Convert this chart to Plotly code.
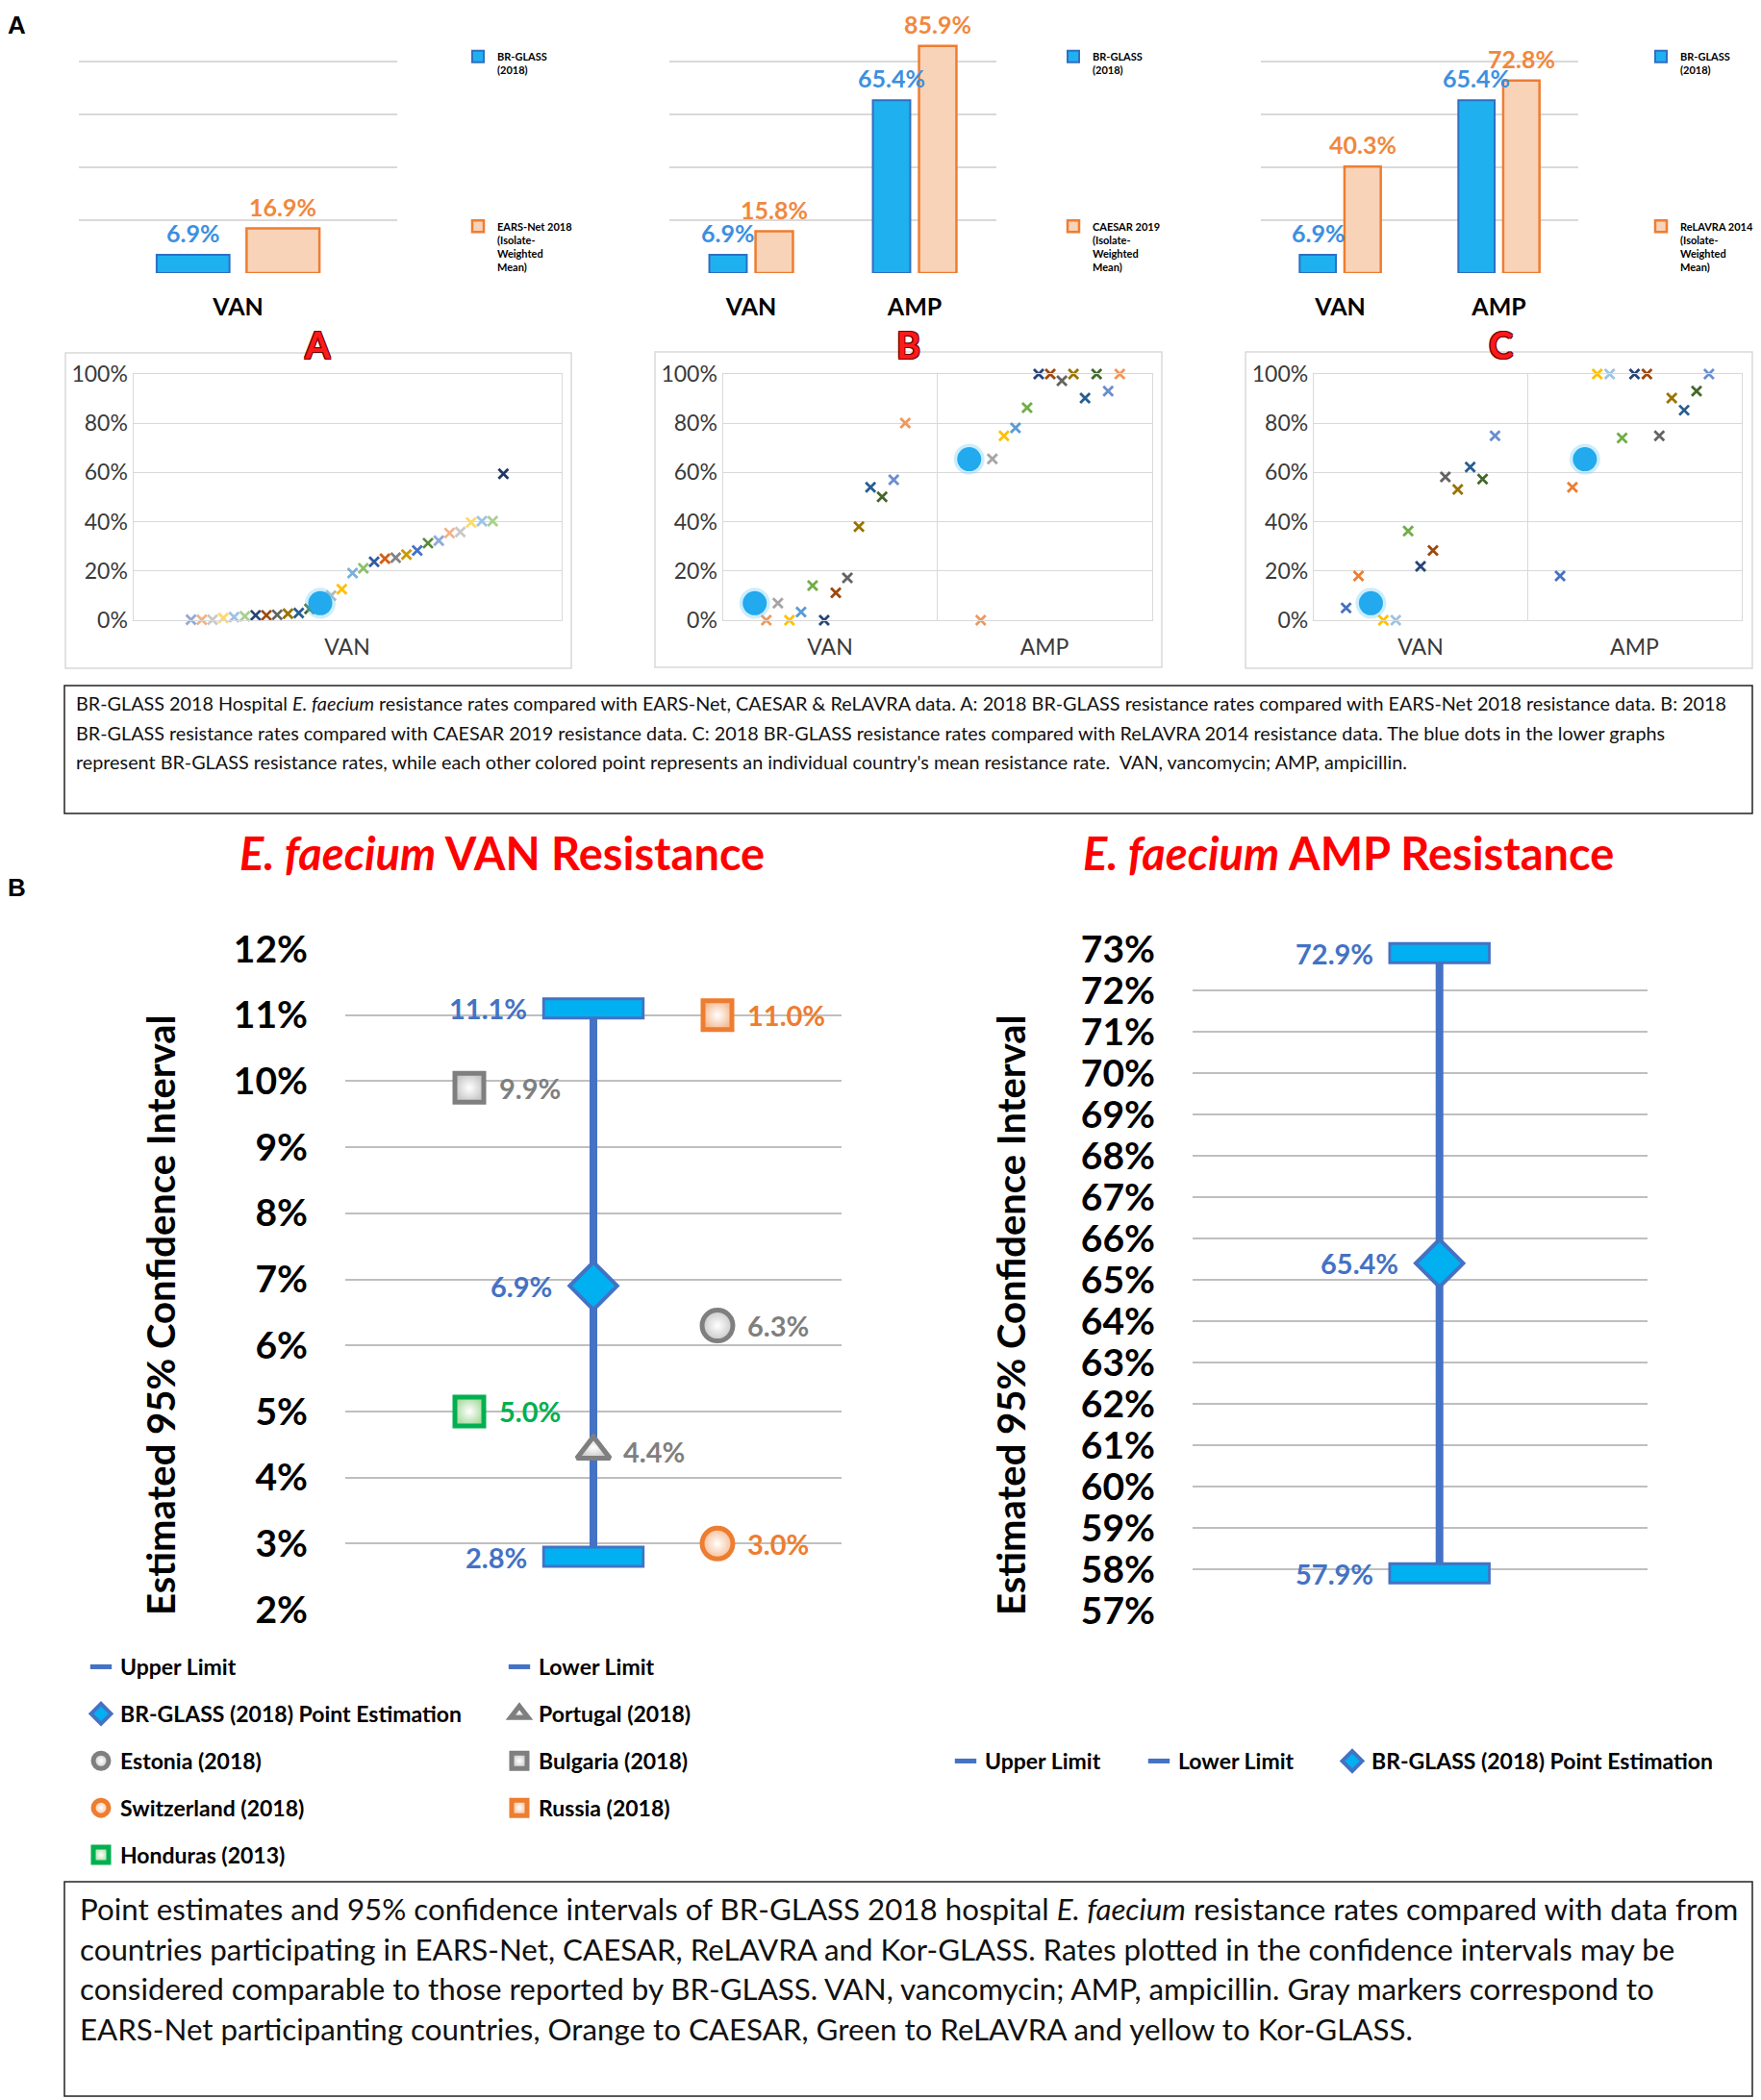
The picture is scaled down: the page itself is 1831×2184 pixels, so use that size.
import plotly.graph_objects as go

W, H = 1831, 2184
def fx(p): return p / W
def fy(p): return 1 - p / H
def dom_x(a, b): return [fx(a), fx(b)]
def dom_y(top, bottom): return [fy(bottom), fy(top)]

FONT = "Lato"

# ---------------- DATA ----------------
# top bar charts
bar_cats_A = ["VAN"]
bar_cats_BC = ["VAN", "AMP"]
br_glass_A = [6.9]
ears_net_A = [16.9]
br_glass_B = [6.9, 65.4]
caesar_B = [15.8, 85.9]
br_glass_C = [6.9, 65.4]
relavra_C = [40.3, 72.8]

# lower scatter charts: country mean rates in series order (BR-GLASS inserted at br_slot)
br_glass_rates = {"VAN": 6.9, "AMP": 65.4}

scatA_van = [0.2, 0.2, 0.2, 0.9, 1.3, 1.6, 2.0, 2.0, 2.2, 2.6, 2.9, 4.6,
             10.0, 12.6, 19.1, 21.1, 23.7, 25.0, 25.4, 26.7, 28.3, 31.3, 32.3,
             35.4, 35.8, 39.7, 40.2, 40.2, 59.5]
scatA_colors = ["#8faadc", "#f4b183", "#c9c9c9", "#ffd966", "#9dc3e6", "#a9d18e",
                "#264478", "#9e480e", "#636363", "#997300", "#255e91", "#43682b",
                "#b7b7b7", "#ffc000", "#7cafdd", "#8cc168", "#335aa1", "#d26012",
                "#848484", "#cc9a00", "#4472c4", "#5a8a39", "#8faadc", "#f4b183",
                "#c9c9c9", "#ffd966", "#9dc3e6", "#a9d18e", "#203864"]
scatA_br_slot = 12

scatB_van = [0.0, 6.9, 0.0, 3.3, 14.1, 0.0, 11.1, 17.2, 38.0, 54.0, 50.1, 57.0, 80.1]
scatB_amp = [0.0, 65.5, 74.9, 78.1, 86.3, 100, 100, 97.3, 100, 90.2, 100, 93.1, 100]
scatB_colors = ["#f1975a", "#a5a5a5", "#ffc000", "#5b9bd5", "#70ad47", "#264478",
                "#9e480e", "#636363", "#997300", "#255e91", "#43682b", "#698ed0", "#f1975a"]
scatB_br_slot = 0

scatC_van = [5.0, 18.0, 0.0, 0.0, 36.2, 21.9, 28.3, 58.2, 53.1, 62.2, 57.3, 74.9]
scatC_amp = [18.0, 54.0, 100, 100, 74.0, 100, 100, 74.9, 90.2, 85.3, 93.1, 100]
scatC_colors = ["#4472c4", "#ed7d31", "#ffc000", "#9dc3e6", "#70ad47", "#264478",
                "#9e480e", "#636363", "#997300", "#255e91", "#43682b", "#698ed0"]
scatC_br_slot = 2

scatter_ticks = [0, 20, 40, 60, 80, 100]

# confidence intervals
ci_lower = {"VAN": 2.8, "AMP": 57.9}
ci_point = {"VAN": 6.9, "AMP": 65.4}
ci_upper = {"VAN": 11.1, "AMP": 72.9}
BR_COLUMN = 2
van_countries = ["Portugal (2018)", "Estonia (2018)", "Bulgaria (2018)",
                 "Switzerland (2018)", "Russia (2018)", "Honduras (2013)"]
van_country_rates = [4.4, 6.3, 9.9, 3.0, 11.0, 5.0]
van_country_column = [2, 3, 1, 3, 3, 1]
van_ticks = list(range(2, 13))
amp_ticks = list(range(57, 74))

# ---------------- STYLES ----------------
BLUE_FILL = "#1fb0f0"
BLUE_EDGE = "#2f6fc2"
ORANGE_EDGE = "#ee7d31"
ORANGE_FILL = "#f8d3b8"
BLUE_TXT = "#3d8fe0"
ORANGE_TXT = "#f0883d"
CI_EDGE = "#4472c4"
CI_FILL = "#00b0f0"
BARGAP = 0.435
BARGROUPGAP = 0.19

country_style = {
    "Portugal (2018)":    dict(symbol="triangle-up", edge="#7f7f7f", fill="#c8c8c8", txt="#7f7f7f", size=30, legend="legend5", rank=2),
    "Estonia (2018)":     dict(symbol="circle", edge="#7f7f7f", fill="#c8c8c8", txt="#7f7f7f", size=32, legend="legend4", rank=3),
    "Bulgaria (2018)":    dict(symbol="square", edge="#7f7f7f", fill="#c8c8c8", txt="#7f7f7f", size=30, legend="legend5", rank=3),
    "Switzerland (2018)": dict(symbol="circle", edge="#ed7d31", fill="#f6bd96", txt="#ed7d31", size=32, legend="legend4", rank=4),
    "Russia (2018)":      dict(symbol="square", edge="#ed7d31", fill="#f6bd96", txt="#ed7d31", size=30, legend="legend5", rank=4),
    "Honduras (2013)":    dict(symbol="square", edge="#00b050", fill="#a9dca0", txt="#00b050", size=30, legend="legend4", rank=5),
}

fig = go.Figure()
annotations = []

# ---------------- TOP BARS ----------------
bar_xdom = [(82, 413), (696, 1036), (1311, 1641)]
bar_panels = [
    ("x", "y", bar_cats_A, br_glass_A, ears_net_A, "EARS-Net 2018<br>(Isolate-<br>Weighted<br>Mean)", "legend"),
    ("x2", "y2", bar_cats_BC, br_glass_B, caesar_B, "CAESAR 2019<br>(Isolate-<br>Weighted<br>Mean)", "legend2"),
    ("x3", "y3", bar_cats_BC, br_glass_C, relavra_C, "ReLAVRA 2014<br>(Isolate-<br>Weighted<br>Mean)", "legend3"),
]
for (xa, ya, cats, br, other, oname, lg), (d0, d1) in zip(bar_panels, bar_xdom):
    fig.add_trace(go.Bar(
        x=cats, y=br, name="BR-GLASS<br>(2018)", xaxis=xa, yaxis=ya,
        legend=lg, legendgroup=lg + "br",
        marker=dict(color=BLUE_FILL, line=dict(color=BLUE_EDGE, width=2)), hoverinfo="skip"))
    fig.add_trace(go.Bar(
        x=cats, y=other, name=oname, xaxis=xa, yaxis=ya,
        legend=lg, legendgroup=lg + "other",
        marker=dict(color=ORANGE_FILL, line=dict(color=ORANGE_EDGE, width=2.5)), hoverinfo="skip"))
    # value labels placed over each grouped bar (offset = half a bar slot, from the bar gap settings)
    slot_px = (d1 - d0) / len(cats) * (1 - BARGAP) / 2
    for vals, sign, col in [(br, -1, BLUE_TXT), (other, 1, ORANGE_TXT)]:
        for c, v in zip(cats, vals):
            annotations.append(dict(x=c, y=v, xref=xa, yref=ya, text=f"{v:.1f}%", showarrow=False,
                                    xanchor="center", yanchor="bottom", xshift=sign * slot_px / 2, yshift=6,
                                    font=dict(family=FONT, size=25, color=col, weight="bold")))

# ---------------- LOWER SCATTERS ----------------
def slot_x(cat_idx, slot, n_slots, step):
    return cat_idx + (slot - (n_slots - 1) / 2) * step

scatter_panels = [
    dict(xa="x4", ya="y4", cats=["VAN"], series=[scatA_van], colors=scatA_colors, br_slot=scatA_br_slot, step=0.02517),
    dict(xa="x5", ya="y5", cats=["VAN", "AMP"], series=[scatB_van, scatB_amp], colors=scatB_colors, br_slot=scatB_br_slot, step=0.054),
    dict(xa="x6", ya="y6", cats=["VAN", "AMP"], series=[scatC_van, scatC_amp], colors=scatC_colors, br_slot=scatC_br_slot, step=0.058),
]
for p in scatter_panels:
    n_slots = len(p["colors"]) + 1
    c_slots = [s for s in range(n_slots) if s != p["br_slot"]]
    xs, ys, cs, bx, by = [], [], [], [], []
    for ci, (cat, vals) in enumerate(zip(p["cats"], p["series"])):
        for s, v, c in zip(c_slots, vals, p["colors"]):
            xs.append(slot_x(ci, s, n_slots, p["step"]))
            ys.append(v)
            cs.append(c)
        bx.append(slot_x(ci, p["br_slot"], n_slots, p["step"]))
        by.append(br_glass_rates[cat])
    fig.add_trace(go.Scatter(x=xs, y=ys, mode="markers", xaxis=p["xa"], yaxis=p["ya"],
                             marker=dict(symbol="x-thin-open", size=10, color=cs, line=dict(width=2.8, color=cs)),
                             showlegend=False, cliponaxis=False, hoverinfo="skip"))
    fig.add_trace(go.Scatter(x=bx, y=by, mode="markers", xaxis=p["xa"], yaxis=p["ya"],
                             marker=dict(symbol="circle", size=32, color="#6ccaf5", opacity=0.35, line=dict(width=0)),
                             showlegend=False, cliponaxis=False, hoverinfo="skip"))
    fig.add_trace(go.Scatter(x=bx, y=by, mode="markers", xaxis=p["xa"], yaxis=p["ya"],
                             marker=dict(symbol="circle", size=25, color="#22a9ee", line=dict(width=0)),
                             showlegend=False, cliponaxis=False, hoverinfo="skip"))

# ---------------- CONFIDENCE INTERVALS ----------------
VAL_FONT = 29

def add_ci(xa, ya, drug, leg_up, leg_lo, leg_pt, pt_width=None):
    lo, pt, up = ci_lower[drug], ci_point[drug], ci_upper[drug]
    fig.add_trace(go.Scatter(x=[BR_COLUMN, BR_COLUMN], y=[lo, up], mode="lines", xaxis=xa, yaxis=ya,
                             line=dict(color=CI_EDGE, width=8), showlegend=False, hoverinfo="skip"))
    for name, val, lg, rank in [("Upper Limit", up, leg_up, 1), ("Lower Limit", lo, leg_lo, 1 if leg_lo != leg_up else 2)]:
        fig.add_trace(go.Scatter(x=[BR_COLUMN], y=[val], mode="markers", name=name, xaxis=xa, yaxis=ya,
                                 legend=lg, legendgroup=lg + name, legendrank=rank,
                                 marker=dict(symbol="line-ew", size=76, color=CI_EDGE, line=dict(color=CI_EDGE, width=23)),
                                 cliponaxis=False, hoverinfo="skip"))
        fig.add_trace(go.Scatter(x=[BR_COLUMN], y=[val], mode="markers", xaxis=xa, yaxis=ya, showlegend=False,
                                 marker=dict(symbol="line-ew", size=72, color=CI_FILL, line=dict(color=CI_FILL, width=17)),
                                 cliponaxis=False, hoverinfo="skip"))
        annotations.append(dict(x=BR_COLUMN, y=val, xref=xa, yref=ya, text=f"{val:.1f}%", showarrow=False,
                                xanchor="right", yanchor="middle", xshift=-67,
                                font=dict(family=FONT, size=VAL_FONT, color=CI_EDGE, weight="bold")))
    kw = {}
    if pt_width:
        kw["legendwidth"] = pt_width
    fig.add_trace(go.Scatter(x=[BR_COLUMN], y=[pt], mode="markers", name="BR-GLASS (2018) Point Estimation",
                             xaxis=xa, yaxis=ya, legend=leg_pt, legendgroup=leg_pt + "pt", legendrank=2 if leg_pt == "legend4" else 3,
                             marker=dict(symbol="diamond", size=38, color=CI_FILL, line=dict(color=CI_EDGE, width=4)),
                             cliponaxis=False, hoverinfo="skip", **kw))
    annotations.append(dict(x=BR_COLUMN, y=pt, xref=xa, yref=ya, text=f"{pt:.1f}%", showarrow=False,
                            xanchor="right", yanchor="middle", xshift=-41,
                            font=dict(family=FONT, size=VAL_FONT, color=CI_EDGE, weight="bold")))

add_ci("x7", "y7", "VAN", "legend4", "legend5", "legend4")

for name, val, col in zip(van_countries, van_country_rates, van_country_column):
    st = country_style[name]
    fig.add_trace(go.Scatter(x=[col], y=[val], mode="markers", name=name, xaxis="x7", yaxis="y7",
                             legend=st["legend"], legendgroup=st["legend"] + name, legendrank=st["rank"],
                             marker=dict(symbol=st["symbol"], size=st["size"], color=st["fill"],
                                         gradient=dict(type="radial", color="white"),
                                         line=dict(color=st["edge"], width=5)),
                             cliponaxis=False, hoverinfo="skip"))
    annotations.append(dict(x=col, y=val, xref="x7", yref="y7", text=f"{val:.1f}%", showarrow=False,
                            xanchor="left", yanchor="middle", xshift=29,
                            font=dict(family=FONT, size=VAL_FONT, color=st["txt"], weight="bold")))

add_ci("x8", "y8", "AMP", "legend6", "legend6", "legend6", pt_width=400)

# ---------------- TEXT ----------------
def pa(x, y, text, size, color="black", weight="normal", xanchor="center", yanchor="middle", angle=0, family=FONT, shadow=None):
    f = dict(family=family, size=size, color=color, weight=weight)
    if shadow:
        f["shadow"] = shadow
    annotations.append(dict(x=fx(x), y=fy(y), xref="paper", yref="paper", text=text, showarrow=False,
                            xanchor=xanchor, yanchor=yanchor, textangle=angle, font=f))

pa(17, 26, "A", 26, weight="bold", family="Liberation Sans")
pa(17, 923, "B", 26, weight="bold", family="Liberation Sans")
outline = "-1px -1px 0 #6b0000, 1px -1px 0 #6b0000, -1px 1px 0 #6b0000, 1px 1px 0 #6b0000"
for (x, t) in [(330, "A"), (944, "B"), (1560, "C")]:
    pa(x, 358, t, 38, color="#ff1a1a", weight="bold", shadow=outline)

pa(522, 887, "<i>E. faecium</i> VAN Resistance", 47, color="#ff0000", weight="bold")
pa(1402, 887, "<i>E. faecium</i> AMP Resistance", 47, color="#ff0000", weight="bold")
pa(167, 1368, "Estimated 95% Confidence Interval", 40, weight="bold", angle=-90)
pa(1051, 1368, "Estimated 95% Confidence Interval", 40, weight="bold", angle=-90)

top_caption = [
    "BR-GLASS 2018 Hospital <i>E. faecium</i> resistance rates compared with EARS-Net, CAESAR &amp; ReLAVRA data. A: 2018 BR-GLASS resistance rates compared with EARS-Net 2018 resistance data. B: 2018",
    "BR-GLASS resistance rates compared with CAESAR 2019 resistance data. C: 2018 BR-GLASS resistance rates compared with ReLAVRA 2014 resistance data. The blue dots in the lower graphs",
    "represent BR-GLASS resistance rates, while each other colored point represents an individual country's mean resistance rate.  VAN, vancomycin; AMP, ampicillin.",
]
for i, line in enumerate(top_caption):
    pa(77, 731 + i * 30.5, line, 19.8, color="#111111", xanchor="left")

bottom_caption = [
    "Point estimates and 95% confidence intervals of BR-GLASS 2018 hospital <i>E. faecium</i> resistance rates compared with data from",
    "countries participating in EARS-Net, CAESAR, ReLAVRA and Kor-GLASS. Rates plotted in the confidence intervals may be",
    "considered comparable to those reported by BR-GLASS. VAN, vancomycin; AMP, ampicillin. Gray markers correspond to",
    "EARS-Net participanting countries, Orange to CAESAR, Green to ReLAVRA and yellow to Kor-GLASS.",
]
for i, line in enumerate(bottom_caption):
    pa(81, 1985 + i * 41.7, line, 31.3, color="#111111", xanchor="left")

# ---------------- SHAPES (frames) ----------------
shapes = []
for (x0, y0, x1, y1) in [(68, 367, 594, 695), (681, 366, 1208, 694), (1295, 366, 1822, 695)]:
    shapes.append(dict(type="rect", xref="paper", yref="paper", x0=fx(x0), x1=fx(x1), y0=fy(y0), y1=fy(y1),
                       line=dict(color="#d9d9d9", width=1.5), layer="below"))
for (x0, y0, x1, y1) in [(67, 713, 1822, 846), (67, 1957, 1822, 2180)]:
    shapes.append(dict(type="rect", xref="paper", yref="paper", x0=fx(x0), x1=fx(x1), y0=fy(y0), y1=fy(y1),
                       line=dict(color="#222222", width=1.5), layer="below"))

# ---------------- LAYOUT ----------------
GRID = "#d9d9d9"
layout = dict(
    width=W, height=H, margin=dict(l=0, r=0, t=0, b=0, autoexpand=False),
    paper_bgcolor="white", plot_bgcolor="white",
    font=dict(family=FONT, color="black"),
    bargap=BARGAP, bargroupgap=BARGROUPGAP, barmode="group",
    annotations=annotations, shapes=shapes, hovermode=False,
)

for i, (a, b) in enumerate(bar_xdom):
    s = "" if i == 0 else str(i + 1)
    layout["xaxis" + s] = dict(domain=dom_x(a, b), anchor="y" + s, type="category", showgrid=False, zeroline=False,
                               showline=False, ticks="", ticklabelstandoff=18, automargin=False,
                               tickfont=dict(family=FONT, size=25, color="black", weight="bold"))
    layout["yaxis" + s] = dict(domain=dom_y(9, 284), anchor="x" + s, range=[0, 100], dtick=20, showticklabels=False,
                               gridcolor=GRID, gridwidth=1.5, zeroline=False, showline=False, automargin=False)

sc_xdom = [(138.5, 583.5), (751.5, 1197.5), (1365.8, 1810.7)]
for j, ((a, b), p) in enumerate(zip(sc_xdom, scatter_panels)):
    s = str(j + 4)
    ncat = len(p["cats"])
    xa = dict(domain=dom_x(a, b), anchor="y" + s, range=[-0.5, ncat - 0.5], tickvals=list(range(ncat)),
              ticktext=p["cats"], showgrid=False, zeroline=False, showline=True, mirror=True,
              linecolor=GRID, linewidth=1, ticks="", ticklabelstandoff=7, automargin=False,
              tickfont=dict(family=FONT, size=23, color="#3a3a3a"))
    if ncat > 1:
        xa["minor"] = dict(tickvals=[k + 0.5 for k in range(ncat - 1)], showgrid=True, gridcolor=GRID, gridwidth=1, ticks="")
    layout["xaxis" + s] = xa
    layout["yaxis" + s] = dict(domain=dom_y(389, 645), anchor="x" + s, range=[0, 100], tickvals=scatter_ticks,
                               ticktext=[f"{v}%" for v in scatter_ticks], gridcolor=GRID, gridwidth=1,
                               zeroline=False, showline=True, mirror=True, linecolor=GRID, linewidth=1,
                               ticks="", ticklabelstandoff=0, automargin=False,
                               tickfont=dict(family=FONT, size=23, color="#3a3a3a"))

layout["xaxis7"] = dict(domain=dom_x(359, 875), anchor="y7", range=[0, 4], visible=False)
layout["yaxis7"] = dict(domain=dom_y(987, 1674), anchor="x7", range=[2, 12], tickvals=van_ticks,
                        ticktext=[f"{v}%" for v in van_ticks], gridcolor="#bfbfbf", gridwidth=2, zeroline=False,
                        showline=False, ticks="", ticklabelstandoff=38, automargin=False,
                        tickfont=dict(family=FONT, size=39, color="black", weight="bold"))
layout["xaxis8"] = dict(domain=dom_x(1240, 1713), anchor="y8", range=[0, 3.685], visible=False)
layout["yaxis8"] = dict(domain=dom_y(987, 1675), anchor="x8", range=[57, 73], tickvals=amp_ticks,
                        ticktext=[f"{v}%" for v in amp_ticks], gridcolor="#bfbfbf", gridwidth=2, zeroline=False,
                        showline=False, ticks="", ticklabelstandoff=38, automargin=False,
                        tickfont=dict(family=FONT, size=39, color="black", weight="bold"))

top_leg = dict(font=dict(family=FONT, size=11, color="black", weight="bold"), bgcolor="rgba(0,0,0,0)",
               xanchor="left", yanchor="top", valign="top", tracegroupgap=145, orientation="v",
               traceorder="grouped")
layout["legend"] = dict(top_leg, x=fx(477), y=fy(45))
layout["legend2"] = dict(top_leg, x=fx(1096), y=fy(45))
layout["legend3"] = dict(top_leg, x=fx(1707), y=fy(45))
bot_leg = dict(font=dict(family=FONT, size=23, color="black", weight="bold"), bgcolor="rgba(0,0,0,0)",
               xanchor="left", yanchor="top", tracegroupgap=16, orientation="v", traceorder="grouped")
layout["legend4"] = dict(bot_leg, x=fx(85), y=fy(1712))
layout["legend5"] = dict(bot_leg, x=fx(520), y=fy(1712))
layout["legend6"] = dict(font=dict(family=FONT, size=23, color="black", weight="bold"), bgcolor="rgba(0,0,0,0)",
                         xanchor="left", yanchor="top", orientation="h", entrywidth=156, x=fx(984), y=fy(1810))

fig.update_layout(**layout)
fig.write_html("out.html", config={"displayModeBar": False},
               post_script="document.body.style.margin='0px';")
